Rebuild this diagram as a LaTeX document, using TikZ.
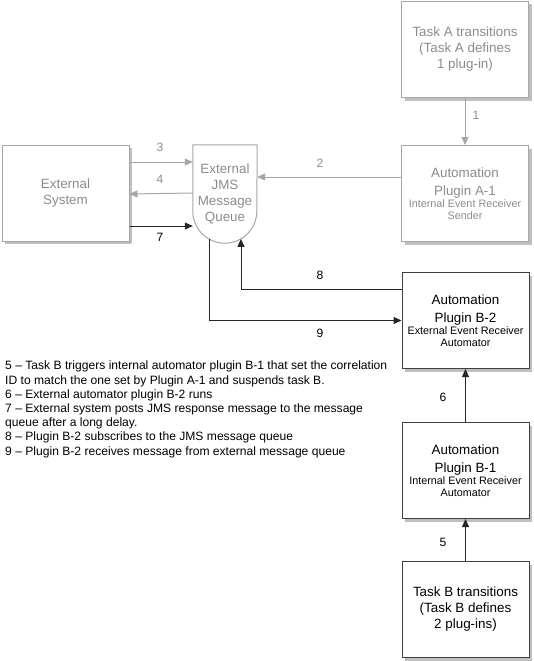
\documentclass[tikz,border=0pt]{standalone}
\usepackage{fontspec}
\setmainfont{Liberation Sans}
\usetikzlibrary{arrows.meta,shadows}
\definecolor{paleline}{HTML}{A6A6A6}
\definecolor{paletext}{HTML}{8C8C8C}
\definecolor{darkline}{HTML}{404040}
\newcommand{\boxfont}{\fontsize{13.4}{16}\selectfont}
\newcommand{\subfont}{\fontsize{10.8}{12}\selectfont}
\newcommand{\notefont}{\fontsize{12.1}{14.2}\selectfont}
\tikzset{
  box/.style={draw=#1, fill=white, line width=1pt, minimum width=127pt, minimum height=96pt,
    inner sep=0pt, align=center, font=\boxfont,
    drop shadow={shadow xshift=3pt, shadow yshift=-3pt, fill=black!25, opacity=1}},
  palebox/.style={box=paleline, text=paletext},
  darkbox/.style={box=darkline, text=black},
  pale/.style={draw=paleline, line width=1pt},
  dark/.style={draw=black!85, line width=1pt},
  nr/.style={font=\notefont, inner sep=0pt}
}
\begin{document}
\begin{tikzpicture}[x=1pt, y=1pt, >={Triangle[length=8pt,width=7pt]}]
\useasboundingbox (0,0) rectangle (533,-661);
% Kaesten
\node[palebox] (taskA) at (465,-49.5) {Task A transitions\\(Task A defines\\1 plug-in)};
\node[palebox] (pluginA) at (465,-193.5) {Automation\\[2pt]Plugin A-1\\[-4pt]{\subfont Internal Event Receiver}\\[-4pt]{\subfont Sender}};
\node[palebox] (extsys) at (65.5,-193) {External\\System};
\node[darkbox] (pluginB2) at (465.5,-320.5) {Automation\\[2pt]Plugin B-2\\[-4pt]{\subfont External Event Receiver}\\[-4pt]{\subfont Automator}};
\node[darkbox] (pluginB1) at (465.5,-470.5) {Automation\\[2pt]Plugin B-1\\[-4pt]{\subfont Internal Event Receiver}\\[-4pt]{\subfont Automator}};
\node[darkbox] (taskB) at (465.5,-609.5) {Task B transitions\\(Task B defines\\2 plug-ins)};
% Warteschlange
\node[minimum width=64pt, minimum height=98pt, inner sep=0pt, align=center, font=\boxfont, text=paletext] (queue) at (225,-194) {External\\JMS\\Message\\Queue};
\draw[pale] (queue.north west) -- ([yshift=32pt]queue.south west) arc[start angle=180, end angle=360, radius=32pt] -- (queue.north east) -- cycle;
\coordinate (qin) at ([xshift=16pt,yshift=4.3pt]queue.south);
\coordinate (qout) at ([xshift=-16pt,yshift=4.3pt]queue.south);
% Pfeile
\draw[pale,->] (taskA) -- (pluginA);
\draw[pale,->] ([yshift=16.5pt]pluginA.west) -- ([yshift=16.5pt]pluginA.west -| queue.east);
\draw[pale,->] ([yshift=31pt]extsys.east) -- ([yshift=31pt]extsys.east -| queue.west);
\draw[pale,->] (extsys.east -| queue.west) -- ([yshift=-1pt]extsys.east);
\draw[dark,->] ([yshift=-33pt]extsys.east) -- ([yshift=-33pt]extsys.east -| queue.west);
\draw[dark,->] ([yshift=31.5pt]pluginB2.west) -| (qin);
\draw[dark,->] (qout) |- (pluginB2.west);
\draw[dark,->] (pluginB1) -- (pluginB2);
\draw[dark,->] (taskB) -- (pluginB1);
% Beschriftungen
\node[nr, text=paletext] (n1) at (476,-115) {1};
\node[nr, text=paletext] (n2) at (320,-163) {2};
\node[nr, text=paletext] (n3) at (160,-147) {3};
\node[nr, text=paletext] (n4) at (160,-179) {4};
\node[nr] (n5) at (443,-542) {5};
\node[nr] (n6) at (443,-397) {6};
\node[nr] (n7) at (160,-237) {7};
\node[nr] (n8) at (320,-275) {8};
\node[nr] (n9) at (320,-333) {9};
\node[nr, anchor=north west, align=left] (notes) at (5,-361) {5 – Task B triggers internal automator plugin B-1 that set the correlation\\
ID to match the one set by Plugin A-1 and suspends task B.\\
6 – External automator plugin B-2 runs\\
7 – External system posts JMS response message to the message\\
queue after a long delay.\\
8 – Plugin B-2 subscribes to the JMS message queue\\
9 – Plugin B-2 receives message from external message queue};
\end{tikzpicture}
\end{document}
